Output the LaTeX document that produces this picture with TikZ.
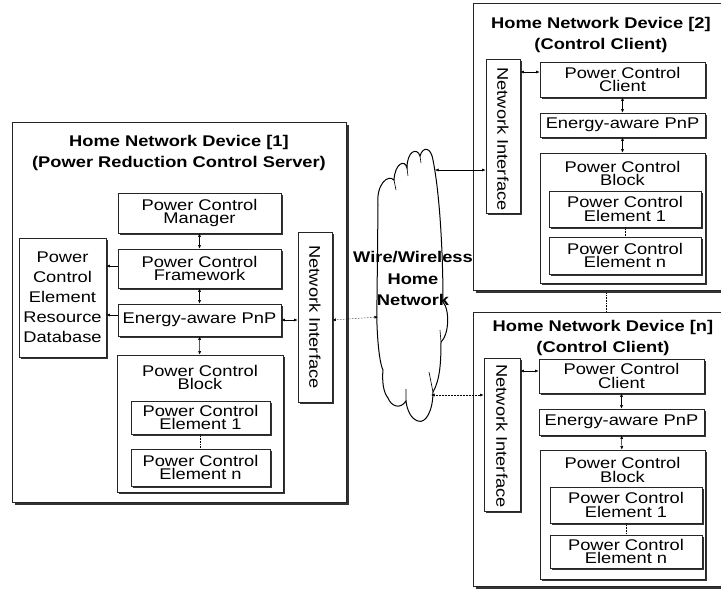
\documentclass[tikz,border=0pt]{standalone}
\usepackage{fontspec}
\setmainfont{Liberation Sans}[FakeStretch=1.18]
\usetikzlibrary{arrows.meta,shadows,calc}

\begin{document}
\begin{tikzpicture}[x=1pt,y=-1pt,
  txt/.style={font=\fontsize{15.5}{13.5}\selectfont, align=center, inner sep=0pt},
  ttl/.style={font=\bfseries\fontsize{15.5}{21}\selectfont, align=center, inner sep=0pt},
  boxbase/.style={draw=black!85, line width=0.8pt, fill=white, inner sep=0pt, align=center,
    font=\fontsize{15.5}{13.5}\selectfont},
  box/.style={boxbase,
    drop shadow={shadow xshift=1.6pt, shadow yshift=-1.6pt, fill=black!80, opacity=1}},
  device/.style={boxbase,
    drop shadow={shadow xshift=2.6pt, shadow yshift=-2.6pt, fill=black!80, opacity=1}},
  tip/.tip={Latex[length=3.5pt,width=3pt]},
  link/.style={line width=0.5pt, tip-tip},
  tolink/.style={line width=0.5pt, -tip},
  netlink/.style={line width=0.5pt, densely dotted, tip-tip},
  gap/.style={line width=0.6pt, densely dotted},
  cloudline/.style={line width=1pt, fill=white}]

\useasboundingbox (0,0) rectangle (721,590);
\begin{scope}
\clip (0,0) rectangle (721,590);

% ---------- Home Network Device [1] : server ----------
\node[device, minimum width=334pt, minimum height=380pt] (dev1) at (179,312) {};
\node[ttl] (dev1t) at (179,152.5) {Home Network Device [1]\\(Power Reduction Control Server)};

\node[box, minimum width=163pt, minimum height=40pt] (mgr) at (199.5,213) {Power Control\\Manager};
\node[box, minimum width=163pt, minimum height=39pt] (fw) at (199.5,268.5) {Power Control\\Framework};
\node[box, minimum width=163pt, minimum height=32pt] (pnp1) at (199.5,320) {Energy-aware PnP};
\node[box, minimum width=87pt, minimum height=119pt,
      font=\fontsize{15.5}{20}\selectfont] (db) at (62.5,297.5)
      {Power\\Control\\Element\\Resource\\Database};
\node[box, minimum width=34pt, minimum height=170pt] (ni1) at (315,317) {};
\node[txt, rotate=-90] (ni1t) at (ni1) {Network Interface};

\node[box, minimum width=166pt, minimum height=137pt] (blk1) at (200,423.5) {};
\node[txt] (blk1t) at (200,377.5) {Power Control\\Block};
\node[box, minimum width=139pt, minimum height=33pt] (e11) at (200.5,417.5) {Power Control\\Element 1};
\node[box, minimum width=139pt, minimum height=37pt] (e1n) at (200.5,467.5) {Power Control\\Element n};

\draw[link] (mgr) -- (fw);
\draw[link] (fw) -- (pnp1);
\draw[link] (pnp1) -- (blk1);
\draw[gap] (e11) -- (e1n);
\draw[tolink] ([yshift=2.5pt]fw.west) -- ([yshift=2.5pt]fw.west -| db.east);
\draw[tolink] ([yshift=5pt]pnp1.west) -- ([yshift=5pt]pnp1.west -| db.east);
\draw[link] (pnp1.east) -- (pnp1.east -| ni1.west);

% ---------- Home Network Device [2] : client ----------
\node[device, minimum width=251pt, minimum height=287pt] (dev2) at (598.5,146.5) {};
\node[ttl] (dev2t) at (601,34.5) {Home Network Device [2]\\(Control Client)};
\node[box, minimum width=34pt, minimum height=154pt] (ni2) at (503,136) {};
\node[txt, rotate=-90] (ni2t) at (503,139) {Network Interface};
\node[box, minimum width=165pt, minimum height=35pt] (cli2) at (622.5,79.5) {Power Control\\Client};
\node[box, minimum width=165pt, minimum height=24pt] (pnp2) at (622.5,125) {Energy-aware PnP};
\node[box, minimum width=165pt, minimum height=130pt] (blk2) at (622.5,218) {};
\node[txt] (blk2t) at (622.5,173.5) {Power Control\\Block};
\node[box, minimum width=152pt, minimum height=36pt] (e21) at (625,209) {Power Control\\Element 1};
\node[box, minimum width=152pt, minimum height=37pt] (e2n) at (625,255.5) {Power Control\\Element n};

\draw[link] ([yshift=7.5pt]cli2.west) -- ([yshift=7.5pt]cli2.west -| ni2.east);
\draw[link] (cli2) -- (pnp2);
\draw[link] (pnp2) -- (blk2);
\draw[gap] (e21) -- (e2n);

% ---------- Home Network Device [n] : client ----------
\node[device, minimum width=251pt, minimum height=274pt] (devn) at (598.5,449) {};
\node[ttl] (devnt) at (603,338) {Home Network Device [n]\\(Control Client)};
\node[box, minimum width=36pt, minimum height=153pt] (nin) at (502,434.5) {};
\node[txt, rotate=-90] (nint) at (502,436) {Network Interface};
\node[box, minimum width=165pt, minimum height=34pt] (clin) at (621.5,376) {Power Control\\Client};
\node[box, minimum width=165pt, minimum height=26pt] (pnpn) at (621.5,422) {Energy-aware PnP};
\node[box, minimum width=165pt, minimum height=129pt] (blkn) at (622.5,514.5) {};
\node[txt] (blknt) at (622.5,470) {Power Control\\Block};
\node[box, minimum width=152pt, minimum height=36pt] (en1) at (626,505) {Power Control\\Element 1};
\node[box, minimum width=152pt, minimum height=33pt] (enn) at (626,551.5) {Power Control\\Element n};

\draw[link] ([yshift=5pt]clin.west) -- ([yshift=5pt]clin.west -| nin.east);
\draw[link] (clin) -- (pnpn);
\draw[link] (pnpn) -- (blkn);
\draw[gap] (en1) -- (enn);

\draw[gap] ([xshift=7.5pt,yshift=-3pt]dev2.south) -- ([xshift=7.5pt]devn.north);

% ---------- home network cloud ----------
\draw[cloudline] (378,205)
  .. controls (376,184) and (388,174) .. (394,180)
  .. controls (395,163) and (405,159) .. (407,168)
  .. controls (407,151) and (417,147) .. (420,156)
  .. controls (423,146) and (431,147) .. (433,160)
  .. controls (440,195) and (443,255) .. (443,302)
  .. controls (450,310) and (449,335) .. (441,342)
  .. controls (441,362) and (440,380) .. (433,392)
  .. controls (433,410) and (426,424) .. (418,421)
  .. controls (411,419) and (407,410) .. (406,401)
  .. controls (400,410) and (391,406) .. (388,398)
  .. controls (383,392) and (382,380) .. (383,370)
  .. controls (378,360) and (376,320) .. (377,300)
  -- cycle;
\draw[line width=0.6pt] (394,180) -- (396,190) (407,168) -- (408,176) (420,156) -- (421,163)
  (406,401) -- (406,389) (433,392) -- (429,372) (441,342) -- (440,330);
\coordinate (cw) at (378,317);
\coordinate (cne) at (435,170);
\coordinate (cse) at (431,395);
\node[ttl, font=\bfseries\fontsize{15.5}{21.5}\selectfont] (cloudt) at (413,278.5)
  {Wire/Wireless\\Home\\Network};

\draw[netlink] (ni1.east |- pnp1.east) -- (cw);
\draw[link] (cne) -- (cne -| ni2.west);
\draw[netlink] (cse) -- (cse -| nin.west);
\end{scope}
\end{tikzpicture}
\end{document}
